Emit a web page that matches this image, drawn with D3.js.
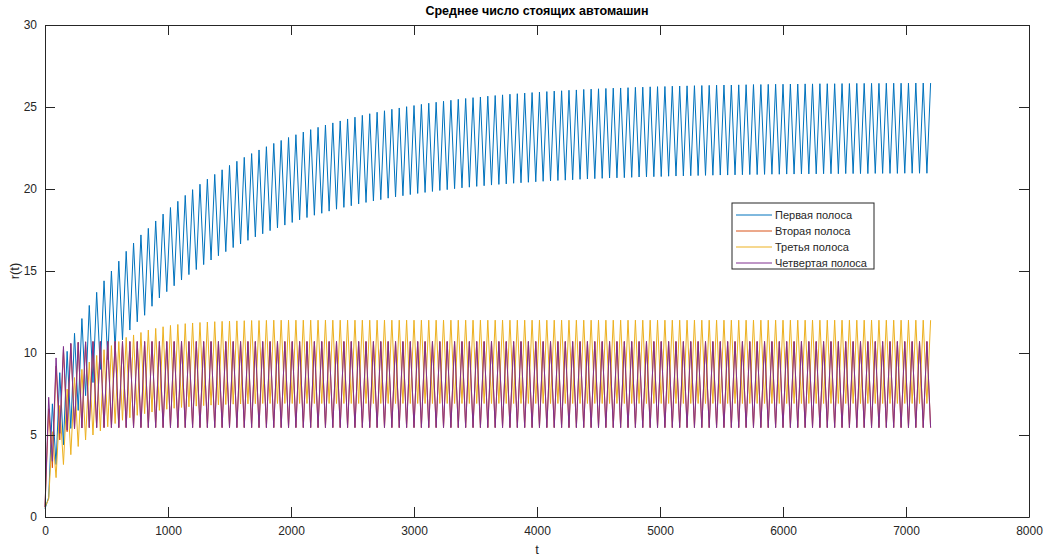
<!DOCTYPE html>
<html>
<head>
<meta charset="utf-8">
<script src="https://cdn.jsdelivr.net/npm/d3@7"></script>
<style>
  body { margin: 0; background: #fff; }
  text { font-family: "Liberation Sans", Arial, sans-serif; fill: #262626; }
</style>
</head>
<body>
<div id="chart"></div>
<script>
var width = 1053;
var height = 558;

// vertices every 30 s: "even" values sit at t = 0, 60, ..., 7200, "odd" values at t = 30, 90, ..., 7170
var step = 30;

var xTicks = [0, 1000, 2000, 3000, 4000, 5000, 6000, 7000, 8000];
var yTicks = [0, 5, 10, 15, 20, 25, 30];

var seriesNames = ["Первая полоса", "Вторая полоса", "Третья полоса", "Четвертая полоса"];
var seriesColors = ["#0072BD", "#D95319", "#EDB120", "#7E2F8E"];

// lane 1 (blue): peaks at even slots, troughs at odd slots
var lane1Even = [
  0.5, 6.9, 8.8, 10.1, 11.2, 12.1, 12.9, 13.7, 14.4, 15.0,
  15.6, 16.2, 16.7, 17.2, 17.6, 18.05, 18.47, 18.87, 19.25, 19.61,
  19.96, 20.29, 20.60, 20.89, 21.17, 21.44, 21.69, 21.93, 22.16, 22.38,
  22.58, 22.78, 22.96, 23.14, 23.31, 23.47, 23.62, 23.76, 23.90, 24.03,
  24.15, 24.27, 24.38, 24.49, 24.59, 24.68, 24.77, 24.86, 24.94, 25.02,
  25.09, 25.16, 25.23, 25.29, 25.35, 25.41, 25.47, 25.52, 25.57, 25.61,
  25.66, 25.70, 25.74, 25.78, 25.81, 25.85, 25.88, 25.91, 25.94, 25.97,
  25.99, 26.02, 26.04, 26.07, 26.09, 26.11, 26.13, 26.15, 26.16, 26.18,
  26.20, 26.21, 26.23, 26.24, 26.25, 26.27, 26.28, 26.29, 26.30, 26.31,
  26.32, 26.33, 26.34, 26.34, 26.35, 26.36, 26.37, 26.37, 26.38, 26.39,
  26.39, 26.40, 26.40, 26.41, 26.41, 26.42, 26.42, 26.42, 26.43, 26.43,
  26.44, 26.44, 26.44, 26.44, 26.45, 26.45, 26.45, 26.45, 26.46, 26.46,
  26.46
];
var lane1Odd = [
  1.2, 3.2, 4.4, 5.4, 6.5, 7.4, 8.2, 9.0, 9.6, 10.2,
  10.8, 11.4, 11.9, 12.3, 12.85, 13.36, 13.74, 14.10, 14.45, 14.78,
  15.09, 15.39, 15.67, 15.93, 16.18, 16.43, 16.65, 16.87, 17.08, 17.27,
  17.46, 17.63, 17.80, 17.96, 18.12, 18.26, 18.40, 18.52, 18.65, 18.77,
  18.88, 18.98, 19.09, 19.18, 19.27, 19.35, 19.44, 19.52, 19.59, 19.66,
  19.73, 19.79, 19.85, 19.91, 19.96, 20.02, 20.07, 20.11, 20.16, 20.20,
  20.24, 20.28, 20.31, 20.35, 20.38, 20.41, 20.44, 20.47, 20.49, 20.52,
  20.54, 20.56, 20.59, 20.61, 20.63, 20.65, 20.67, 20.68, 20.69, 20.71,
  20.73, 20.74, 20.75, 20.76, 20.78, 20.79, 20.80, 20.81, 20.82, 20.83,
  20.84, 20.85, 20.85, 20.86, 20.87, 20.88, 20.88, 20.89, 20.90, 20.90,
  20.91, 20.91, 20.92, 20.92, 20.92, 20.93, 20.93, 20.93, 20.94, 20.94,
  20.94, 20.94, 20.95, 20.95, 20.95, 20.95, 20.96, 20.96, 20.96, 20.96
];

// lane 2 (orange): troughs at even slots, peaks at odd slots (almost hidden under lane 4)
var lane2Even = [
  0.6, 3.0, 4.7, 5.2, 5.38, 5.43, 5.45, 5.45, 5.45, 5.45,
  5.45, 5.45, 5.45, 5.45, 5.45, 5.45, 5.45, 5.45, 5.45, 5.45,
  5.45, 5.45, 5.45, 5.45, 5.45, 5.45, 5.45, 5.45, 5.45, 5.45,
  5.45, 5.45, 5.45, 5.45, 5.45, 5.45, 5.45, 5.45, 5.45, 5.45,
  5.45, 5.45, 5.45, 5.45, 5.45, 5.45, 5.45, 5.45, 5.45, 5.45,
  5.45, 5.45, 5.45, 5.45, 5.45, 5.45, 5.45, 5.45, 5.45, 5.45,
  5.45, 5.45, 5.45, 5.45, 5.45, 5.45, 5.45, 5.45, 5.45, 5.45,
  5.45, 5.45, 5.45, 5.45, 5.45, 5.45, 5.45, 5.45, 5.45, 5.45,
  5.45, 5.45, 5.45, 5.45, 5.45, 5.45, 5.45, 5.45, 5.45, 5.45,
  5.45, 5.45, 5.45, 5.45, 5.45, 5.45, 5.45, 5.45, 5.45, 5.45,
  5.45, 5.45, 5.45, 5.45, 5.45, 5.45, 5.45, 5.45, 5.45, 5.45,
  5.45, 5.45, 5.45, 5.45, 5.45, 5.45, 5.45, 5.45, 5.45, 5.45,
  5.45
];
var lane2Odd = [
  6.6, 9.2, 10.2, 10.55, 10.65, 10.68, 10.7, 10.7, 10.7, 10.7,
  10.7, 10.7, 10.7, 10.7, 10.7, 10.7, 10.7, 10.7, 10.7, 10.7,
  10.7, 10.7, 10.7, 10.7, 10.7, 10.7, 10.7, 10.7, 10.7, 10.7,
  10.7, 10.7, 10.7, 10.7, 10.7, 10.7, 10.7, 10.7, 10.7, 10.7,
  10.7, 10.7, 10.7, 10.7, 10.7, 10.7, 10.7, 10.7, 10.7, 10.7,
  10.7, 10.7, 10.7, 10.7, 10.7, 10.7, 10.7, 10.7, 10.7, 10.7,
  10.7, 10.7, 10.7, 10.7, 10.7, 10.7, 10.7, 10.7, 10.7, 10.7,
  10.7, 10.7, 10.7, 10.7, 10.7, 10.7, 10.7, 10.7, 10.7, 10.7,
  10.7, 10.7, 10.7, 10.7, 10.7, 10.7, 10.7, 10.7, 10.7, 10.7,
  10.7, 10.7, 10.7, 10.7, 10.7, 10.7, 10.7, 10.7, 10.7, 10.7,
  10.7, 10.7, 10.7, 10.7, 10.7, 10.7, 10.7, 10.7, 10.7, 10.7,
  10.7, 10.7, 10.7, 10.7, 10.7, 10.7, 10.7, 10.7, 10.7, 10.7
];

// lane 3 (yellow): peaks at even slots, troughs at odd slots
var lane3Even = [
  0.6, 5.2, 6.8, 7.8, 8.5, 9.0, 9.45, 9.85, 10.2, 10.45,
  10.7, 10.95, 11.1, 11.25, 11.4, 11.5, 11.6, 11.68, 11.74, 11.79,
  11.83, 11.86, 11.89, 11.91, 11.93, 11.95, 11.96, 11.97, 11.98, 11.98,
  11.99, 12.0, 12.0, 12.0, 12.0, 12.0, 12.0, 12.0, 12.0, 12.0,
  12.0, 12.0, 12.0, 12.0, 12.0, 12.0, 12.0, 12.0, 12.0, 12.0,
  12.0, 12.0, 12.0, 12.0, 12.0, 12.0, 12.0, 12.0, 12.0, 12.0,
  12.0, 12.0, 12.0, 12.0, 12.0, 12.0, 12.0, 12.0, 12.0, 12.0,
  12.0, 12.0, 12.0, 12.0, 12.0, 12.0, 12.0, 12.0, 12.0, 12.0,
  12.0, 12.0, 12.0, 12.0, 12.0, 12.0, 12.0, 12.0, 12.0, 12.0,
  12.0, 12.0, 12.0, 12.0, 12.0, 12.0, 12.0, 12.0, 12.0, 12.0,
  12.0, 12.0, 12.0, 12.0, 12.0, 12.0, 12.0, 12.0, 12.0, 12.0,
  12.0, 12.0, 12.0, 12.0, 12.0, 12.0, 12.0, 12.0, 12.0, 12.0,
  12.0
];
var lane3Odd = [
  1.1, 2.4, 3.2, 3.8, 4.3, 4.7, 5.0, 5.25, 5.5, 5.7,
  5.9, 6.05, 6.2, 6.3, 6.4, 6.5, 6.57, 6.63, 6.68, 6.72,
  6.76, 6.79, 6.82, 6.84, 6.86, 6.88, 6.89, 6.9, 6.91, 6.92,
  6.92, 6.92, 6.92, 6.92, 6.92, 6.92, 6.92, 6.92, 6.92, 6.92,
  6.92, 6.92, 6.92, 6.92, 6.92, 6.92, 6.92, 6.92, 6.92, 6.92,
  6.92, 6.92, 6.92, 6.92, 6.92, 6.92, 6.92, 6.92, 6.92, 6.92,
  6.92, 6.92, 6.92, 6.92, 6.92, 6.92, 6.92, 6.92, 6.92, 6.92,
  6.92, 6.92, 6.92, 6.92, 6.92, 6.92, 6.92, 6.92, 6.92, 6.92,
  6.92, 6.92, 6.92, 6.92, 6.92, 6.92, 6.92, 6.92, 6.92, 6.92,
  6.92, 6.92, 6.92, 6.92, 6.92, 6.92, 6.92, 6.92, 6.92, 6.92,
  6.92, 6.92, 6.92, 6.92, 6.92, 6.92, 6.92, 6.92, 6.92, 6.92,
  6.92, 6.92, 6.92, 6.92, 6.92, 6.92, 6.92, 6.92, 6.92, 6.92
];

// lane 4 (purple): troughs at even slots, peaks at odd slots
var lane4Even = [
  0.6, 3.4, 5.1, 5.3, 5.4, 5.43, 5.45, 5.45, 5.45, 5.45,
  5.45, 5.45, 5.45, 5.45, 5.45, 5.45, 5.45, 5.45, 5.45, 5.45,
  5.45, 5.45, 5.45, 5.45, 5.45, 5.45, 5.45, 5.45, 5.45, 5.45,
  5.45, 5.45, 5.45, 5.45, 5.45, 5.45, 5.45, 5.45, 5.45, 5.45,
  5.45, 5.45, 5.45, 5.45, 5.45, 5.45, 5.45, 5.45, 5.45, 5.45,
  5.45, 5.45, 5.45, 5.45, 5.45, 5.45, 5.45, 5.45, 5.45, 5.45,
  5.45, 5.45, 5.45, 5.45, 5.45, 5.45, 5.45, 5.45, 5.45, 5.45,
  5.45, 5.45, 5.45, 5.45, 5.45, 5.45, 5.45, 5.45, 5.45, 5.45,
  5.45, 5.45, 5.45, 5.45, 5.45, 5.45, 5.45, 5.45, 5.45, 5.45,
  5.45, 5.45, 5.45, 5.45, 5.45, 5.45, 5.45, 5.45, 5.45, 5.45,
  5.45, 5.45, 5.45, 5.45, 5.45, 5.45, 5.45, 5.45, 5.45, 5.45,
  5.45, 5.45, 5.45, 5.45, 5.45, 5.45, 5.45, 5.45, 5.45, 5.45,
  5.45
];
var lane4Odd = [
  7.3, 9.7, 10.4, 10.6, 10.65, 10.68, 10.7, 10.7, 10.7, 10.7,
  10.7, 10.7, 10.7, 10.7, 10.7, 10.7, 10.7, 10.7, 10.7, 10.7,
  10.7, 10.7, 10.7, 10.7, 10.7, 10.7, 10.7, 10.7, 10.7, 10.7,
  10.7, 10.7, 10.7, 10.7, 10.7, 10.7, 10.7, 10.7, 10.7, 10.7,
  10.7, 10.7, 10.7, 10.7, 10.7, 10.7, 10.7, 10.7, 10.7, 10.7,
  10.7, 10.7, 10.7, 10.7, 10.7, 10.7, 10.7, 10.7, 10.7, 10.7,
  10.7, 10.7, 10.7, 10.7, 10.7, 10.7, 10.7, 10.7, 10.7, 10.7,
  10.7, 10.7, 10.7, 10.7, 10.7, 10.7, 10.7, 10.7, 10.7, 10.7,
  10.7, 10.7, 10.7, 10.7, 10.7, 10.7, 10.7, 10.7, 10.7, 10.7,
  10.7, 10.7, 10.7, 10.7, 10.7, 10.7, 10.7, 10.7, 10.7, 10.7,
  10.7, 10.7, 10.7, 10.7, 10.7, 10.7, 10.7, 10.7, 10.7, 10.7,
  10.7, 10.7, 10.7, 10.7, 10.7, 10.7, 10.7, 10.7, 10.7, 10.7
];

var margin = { left: 45, top: 25, right: 24, bottom: 41 };

// merge the even/odd slots back into one (t, r) list
function buildSeries(even, odd) {
  var pts = [];
  var n = Math.min(even.length, odd.length + 1);
  for (var k = 0; k < n; k++) {
    pts.push({ t: 2 * k * step, r: even[k] });
    if (k < odd.length) pts.push({ t: (2 * k + 1) * step, r: odd[k] });
  }
  return pts;
}

function createSVG(width, height) {
  return d3.select("#chart")
    .append("svg")
    .attr("width", width)
    .attr("height", height);
}

function drawAxes(svg, x, y) {
  var x0 = x.range()[0], x1 = x.range()[1];
  var y0 = y.range()[0], y1 = y.range()[1];

  // ticks point inward on all four sides (matlab box style)
  svg.append("g")
    .attr("transform", "translate(0," + y0 + ")")
    .call(d3.axisBottom(x).tickValues(xTicks).tickFormat(d3.format("d"))
      .tickSizeInner(-10).tickSizeOuter(0).tickPadding(9));
  svg.append("g")
    .attr("transform", "translate(0," + y1 + ")")
    .call(d3.axisTop(x).tickValues(xTicks).tickSizeInner(-10).tickSizeOuter(0).tickFormat(""));
  svg.append("g")
    .attr("transform", "translate(" + x0 + ",0)")
    .call(d3.axisLeft(y).tickValues(yTicks).tickSizeInner(-10).tickSizeOuter(0).tickPadding(8));
  svg.append("g")
    .attr("transform", "translate(" + x1 + ",0)")
    .call(d3.axisRight(y).tickValues(yTicks).tickSizeInner(-10).tickSizeOuter(0).tickFormat(""));

  svg.selectAll(".tick line").attr("stroke", "#262626");
  svg.selectAll(".domain").attr("stroke", "#262626");
  svg.selectAll(".tick text")
    .style("font-size", "12px")
    .style("fill", "#262626");

  svg.append("text")
    .attr("x", (x0 + x1) / 2)
    .attr("y", 15)
    .attr("text-anchor", "middle")
    .style("font-size", "12.5px")
    .style("font-weight", "bold")
    .style("fill", "#000")
    .text("Среднее число стоящих автомашин");

  svg.append("text")
    .attr("x", (x0 + x1) / 2)
    .attr("y", 554)
    .attr("text-anchor", "middle")
    .style("font-size", "13px")
    .text("t");

  svg.append("text")
    .attr("transform", "translate(19," + ((y0 + y1) / 2) + ") rotate(-90)")
    .attr("text-anchor", "middle")
    .style("font-size", "13px")
    .text("r(t)");
}

function drawLines(svg, x, y, data) {
  var line = d3.line()
    .x(function(d) { return x(d.t); })
    .y(function(d) { return y(d.r); });

  svg.selectAll("path.lane")
    .data(data)
    .enter()
    .append("path")
    .attr("class", "lane")
    .attr("d", function(d) { return line(d.pts); })
    .attr("fill", "none")
    .attr("stroke", function(d) { return d.color; })
    .attr("stroke-width", 1);
}

function createLegend(svg, data) {
  var legend = svg.append("g")
    .attr("transform", "translate(732,203)");

  legend.append("rect")
    .attr("width", 142)
    .attr("height", 66)
    .attr("fill", "#fff")
    .attr("stroke", "#262626")
    .attr("stroke-width", 1);

  var rows = legend.selectAll("g.row")
    .data(data)
    .enter()
    .append("g")
    .attr("class", "row")
    .attr("transform", function(d, i) { return "translate(0," + (12 + i * 16) + ")"; });

  rows.append("line")
    .attr("x1", 4)
    .attr("x2", 40)
    .attr("stroke", function(d) { return d.color; })
    .attr("stroke-width", 1);

  rows.append("text")
    .attr("x", 43)
    .attr("dy", "0.35em")
    .style("font-size", "11px")
    .text(function(d) { return d.name; });
}

function main() {
  var svg = createSVG(width, height);

  var x = d3.scaleLinear()
    .domain([0, 8000])
    .range([margin.left, width - margin.right]);
  var y = d3.scaleLinear()
    .domain([0, 30])
    .range([height - margin.bottom, margin.top]);

  var evens = [lane1Even, lane2Even, lane3Even, lane4Even];
  var odds = [lane1Odd, lane2Odd, lane3Odd, lane4Odd];
  var data = seriesNames.map(function(name, i) {
    return { name: name, color: seriesColors[i], pts: buildSeries(evens[i], odds[i]) };
  });

  drawLines(svg, x, y, data);
  drawAxes(svg, x, y);
  createLegend(svg, data);
}

window.onload = function() {
  main();
};
</script>
</body>
</html>
